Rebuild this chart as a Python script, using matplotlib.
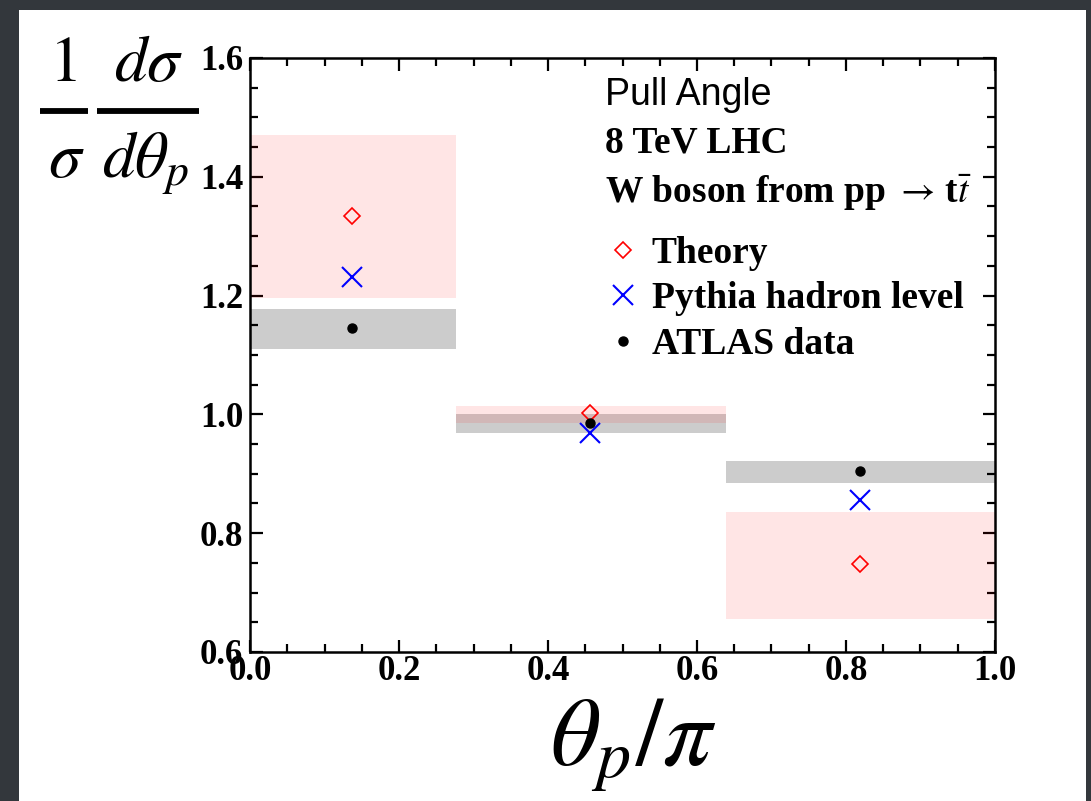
import matplotlib
matplotlib.use("Agg")
import matplotlib.pyplot as plt
from matplotlib.patches import Rectangle
from matplotlib.lines import Line2D
from matplotlib.ticker import MultipleLocator, FormatStrFormatter

plt.rcParams["mathtext.fontset"] = "stix"
SERIF = "Liberation Serif"
W, H = 1091, 801

# Pull-angle bins (theta_p / pi)
bin_edges = [0.0, 0.276, 0.639, 1.0]
bin_centers = [0.137, 0.457, 0.819]

# Theory prediction with uncertainty band
theory = [1.334, 1.002, 0.748]
theory_lo = [1.196, 0.986, 0.656]
theory_hi = [1.470, 1.014, 0.836]

# Pythia hadron level
pythia = [1.231, 0.969, 0.856]

# ATLAS data with uncertainty band
atlas = [1.145, 0.986, 0.905]
atlas_lo = [1.110, 0.969, 0.885]
atlas_hi = [1.177, 1.001, 0.921]


def fx(px):
    return px / W


def fy(py):
    return 1 - py / H


fig = plt.figure(figsize=(10.91, 8.01), dpi=100, facecolor="#33373c")
fig.add_artist(Rectangle((fx(19), 0), fx(1086 - 19), fy(10),
                         transform=fig.transFigure, facecolor="white",
                         edgecolor="none", zorder=-10))

ax = fig.add_axes([fx(250), fy(652), fx(745), 594 / H])
ax.set_facecolor("none")

for i in range(3):
    x0, x1 = bin_edges[i], bin_edges[i + 1]
    ax.fill_between([x0, x1], atlas_lo[i], atlas_hi[i], color="#cccccc",
                    linewidth=0, zorder=1)
    ax.fill_between([x0, x1], theory_lo[i], theory_hi[i], color="red",
                    alpha=0.1, linewidth=0, zorder=2)

ax.plot(bin_centers, theory, linestyle="none", marker="D", markersize=8,
        markerfacecolor="none", markeredgecolor="red", markeredgewidth=1.2,
        label="Theory", zorder=5)
ax.plot(bin_centers, pythia, linestyle="none", marker="x", markersize=14,
        color="blue", markeredgewidth=1.5, label="Pythia hadron level", zorder=4)
ax.plot(bin_centers, atlas, linestyle="none", marker="o", markersize=6.5,
        color="black", label="ATLAS data", zorder=6)

ax.set_xlim(0, 1)
ax.set_ylim(0.6, 1.6)
ax.xaxis.set_major_locator(MultipleLocator(0.2))
ax.xaxis.set_minor_locator(MultipleLocator(0.05))
ax.yaxis.set_major_locator(MultipleLocator(0.2))
ax.yaxis.set_minor_locator(MultipleLocator(0.05))
ax.xaxis.set_major_formatter(FormatStrFormatter("%.1f"))
ax.yaxis.set_major_formatter(FormatStrFormatter("%.1f"))
ax.tick_params(which="both", direction="in", top=True, right=True, width=1.6,
               color="black")
ax.tick_params(which="major", length=9)
ax.tick_params(which="minor", length=5.5)
ax.tick_params(axis="x", which="major", pad=2)
ax.tick_params(axis="y", which="major", pad=5)
for lab in ax.get_xticklabels() + ax.get_yticklabels():
    lab.set_fontfamily(SERIF)
    lab.set_fontweight("bold")
    lab.set_fontsize(25)
for s in ax.spines.values():
    s.set_linewidth(1.8)

ax.text(0.477, 0.937, "Pull Angle", transform=ax.transAxes,
        fontfamily="Liberation Sans", fontsize=27, va="center")
ax.text(0.477, 0.857, "8 TeV LHC", transform=ax.transAxes,
        fontfamily=SERIF, fontweight="bold", fontsize=27, va="center")
ax.text(0.477, 0.773, r"W boson from pp $\rightarrow\,$t$\bar{t}$",
        transform=ax.transAxes, fontfamily=SERIF, fontweight="bold",
        fontsize=27, va="center")

leg = ax.legend(loc="upper left", bbox_to_anchor=(0.466, 0.726), frameon=False,
                handlelength=0.6, handletextpad=0.45, labelspacing=0.28,
                borderaxespad=0, prop={"family": SERIF, "weight": "bold",
                                       "size": 27})

# y-axis label: (1/sigma) dsigma/dtheta_p, set as two stacked fractions
lab_size = 47
fig.text(fx(63), fy(81), "$1$", fontsize=lab_size, ha="center", va="baseline")
fig.text(fx(66), fy(177), r"$\sigma$", fontsize=lab_size, ha="center",
         va="baseline")
fig.text(fx(149), fy(81), r"$d\sigma$", fontsize=lab_size, ha="center",
         va="baseline")
fig.text(fx(146), fy(177), r"$d\theta_p$", fontsize=lab_size, ha="center",
         va="baseline")
for x0, x1 in [(40, 88), (97, 199)]:
    fig.add_artist(Line2D([fx(x0), fx(x1)], [fy(111), fy(111)],
                          transform=fig.transFigure, color="black",
                          linewidth=4.2, solid_capstyle="butt"))

fig.text(fx(633), fy(745), r"$\theta_p/\pi$", fontsize=70,
         ha="center", va="center")

fig.savefig("out.png", dpi=100, facecolor=fig.get_facecolor())
